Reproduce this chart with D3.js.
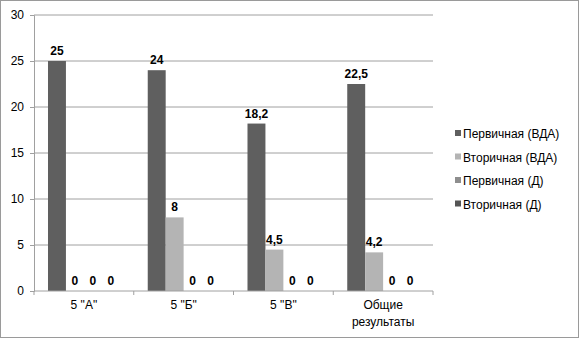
<!DOCTYPE html>
<meta charset="utf-8">
<style>
 body { margin: 0; background: #fff; }
 svg text { font-family: "Liberation Sans", Arial, sans-serif; font-size: 12px; fill: #000; }
 svg text.lbl { font-weight: bold; }
</style>
<body>
<svg width="579" height="339"></svg>
<script src="https://d3js.org/d3.v7.min.js"></script>
<script>

 const categories = ['5 "А"', '5 "Б"', '5 "В"', 'Общие|результаты'];
 const seriesNames = ['Первичная (ВДА)', 'Вторичная (ВДА)', 'Первичная (Д)', 'Вторичная (Д)'];
 const seriesColors = ['#5f5f5f', '#b4b4b4', '#8e8e8e', '#555555'];
 const pervVDA = [25, 24, 18.2, 22.5];
 const vtorVDA = [0, 8, 4.5, 4.2];
 const pervD = [0, 0, 0, 0];
 const vtorD = [0, 0, 0, 0];
 const yTicks = [0, 5, 10, 15, 20, 25, 30];

 const series = [pervVDA, vtorVDA, pervD, vtorD];

 var svg = d3.select("svg"),
     margin = {top: 15, right: 146, bottom: 48, left: 34},
     width = 579 - margin.left - margin.right,
     height = 339 - margin.top - margin.bottom;

 // outer frame
 svg.append("rect")
    .attr("x", 0.5).attr("y", 0.5)
    .attr("width", 578).attr("height", 337)
    .style("fill", "none").style("stroke", "#9a9a9a");

 var g = svg.append("g")
    .attr("transform", "translate(" + margin.left + "," + margin.top + ")");

 var x0 = d3.scaleBand().domain(categories).range([0, width]);
 var x1 = d3.scaleBand().domain(d3.range(series.length))
    .range([0, x0.bandwidth()]).paddingOuter(0.78).paddingInner(0);
 var y = d3.scaleLinear().domain([0, 30]).range([height, 0]);

 // gridlines
 g.append("g").selectAll("line").data(yTicks.slice(1)).enter().append("line")
  .attr("x1", 0).attr("x2", width)
  .attr("y1", d => y(d)).attr("y2", d => y(d))
  .style("stroke", "#a0a0a0");

 var yAxis = g.append("g").attr("class", "axis")
  .call(d3.axisLeft(y).tickValues(yTicks).tickSize(4).tickPadding(6));
 yAxis.attr("font-family", null).attr("font-size", null);
 yAxis.select(".domain").style("stroke", "#a0a0a0");
 yAxis.selectAll("line").style("stroke", "#a0a0a0");

 // bars
 var groups = g.append("g").selectAll("g").data(categories).enter().append("g")
  .attr("transform", d => "translate(" + x0(d) + ",0)");

 groups.selectAll("rect")
  .data((c, ci) => series.map((s, si) => ({si: si, v: s[ci]})))
  .enter().append("rect")
  .attr("x", d => x1(d.si))
  .attr("width", x1.bandwidth())
  .attr("y", d => y(d.v))
  .attr("height", d => height - y(d.v))
  .style("fill", d => seriesColors[d.si]);

 groups.selectAll("text")
  .data((c, ci) => series.map((s, si) => ({si: si, v: s[ci]})))
  .enter().append("text")
  .attr("class", "lbl")
  .attr("text-anchor", "middle")
  .attr("x", d => x1(d.si) + x1.bandwidth() / 2)
  .attr("y", d => y(d.v) - 6)
  .text(d => String(d.v).replace(".", ","));

 // x axis
 var xAxis = g.append("g").attr("class", "axis")
  .attr("transform", "translate(0," + height + ")");
 xAxis.append("line").attr("x1", 0).attr("x2", width).style("stroke", "#a0a0a0");
 xAxis.selectAll("line.tk").data(d3.range(categories.length + 1)).enter().append("line")
  .attr("class", "tk")
  .attr("x1", i => i * x0.step()).attr("x2", i => i * x0.step())
  .attr("y1", 0).attr("y2", 4)
  .style("stroke", "#a0a0a0");
 var xt = xAxis.selectAll("text.cat").data(categories).enter().append("text")
  .attr("class", "cat")
  .attr("text-anchor", "middle")
  .attr("x", d => x0(d) + x0.bandwidth() / 2)
  .attr("y", 18);
 xt.selectAll("tspan").data(d => d.split("|")).enter().append("tspan")
  .attr("x", function() { return d3.select(this.parentNode).attr("x"); })
  .attr("dy", (d, i) => i ? 17 : 0)
  .text(d => d);

 // legend
 var legend = svg.append("g").attr("class", "legend")
  .attr("transform", "translate(455,134)");
 var li = legend.selectAll("g").data(seriesNames).enter().append("g")
  .attr("transform", (d, i) => "translate(0," + i * 23.5 + ")");
 li.append("rect").attr("x", 0).attr("y", -4).attr("width", 6).attr("height", 6)
  .style("fill", (d, i) => seriesColors[i]);
 li.append("text").attr("x", 8).attr("y", 4).text(d => d);

</script>
</body>
